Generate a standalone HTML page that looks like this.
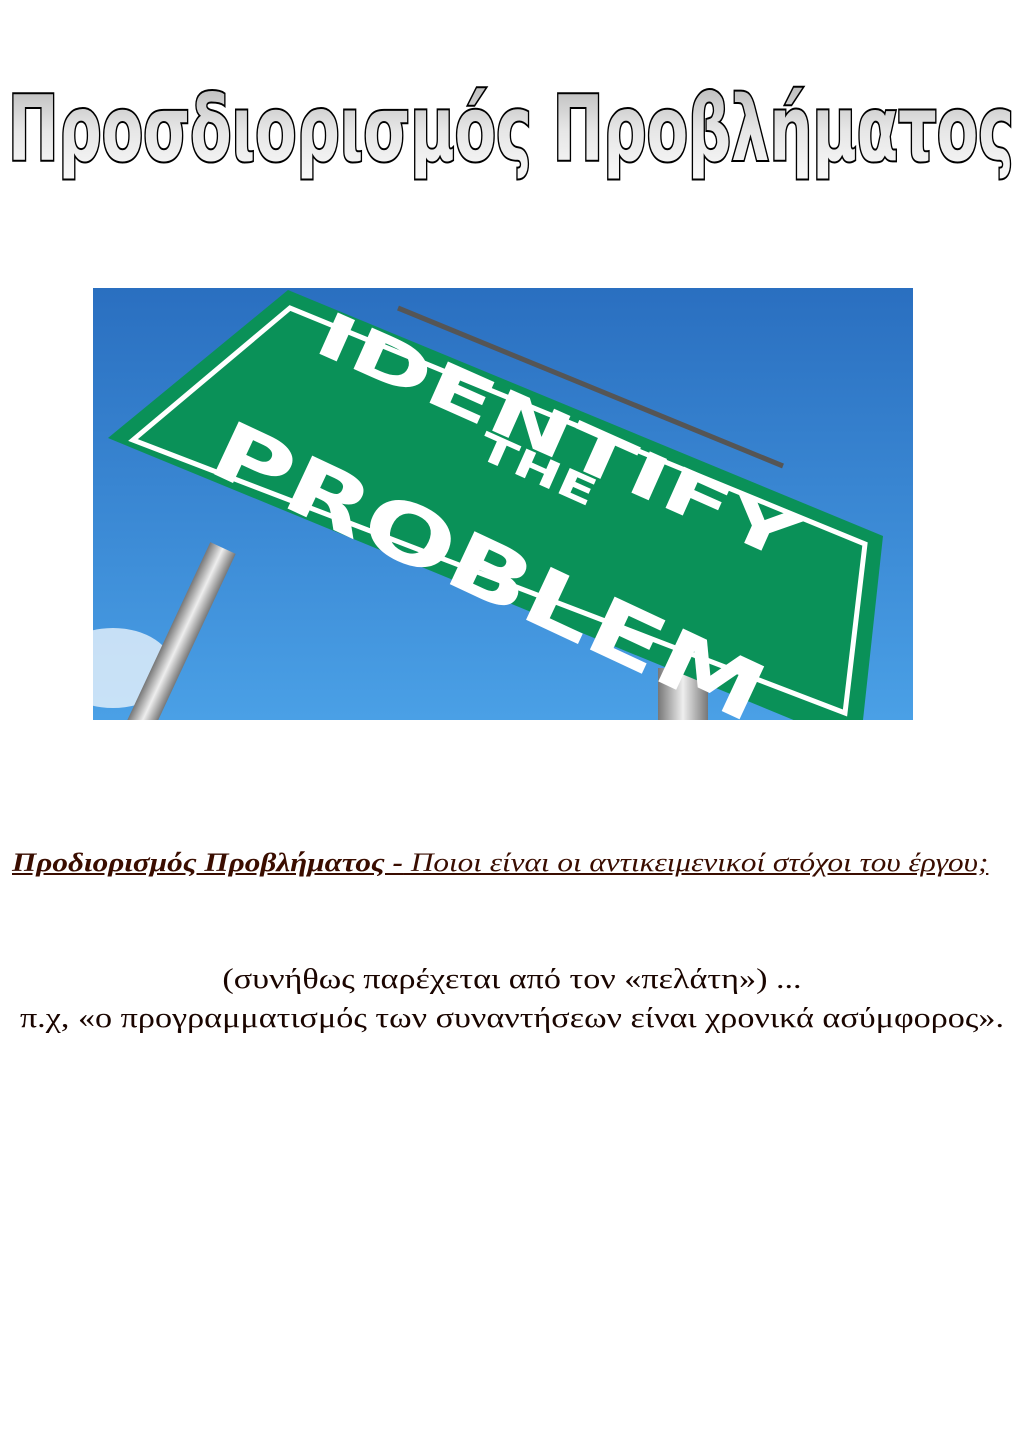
<!DOCTYPE html>
<html><head><meta charset="utf-8"><style>
body{margin:0;width:1024px;height:1448px;background:#fff;position:relative;overflow:hidden;font-family:"Liberation Serif","DejaVu Serif",serif;}
.abs{position:absolute;}
</style></head><body>
<svg class="abs" style="left:0;top:70px" width="1024" height="120">
<defs><linearGradient id="tg" x1="0" y1="0" x2="0" y2="1"><stop offset="0" stop-color="#b5b5b5"/><stop offset="0.5" stop-color="#e6e6e6"/><stop offset="1" stop-color="#fafafa"/></linearGradient></defs>
<text x="8" y="90" font-family="DejaVu Sans, sans-serif" font-weight="bold" font-size="90" textLength="1006" lengthAdjust="spacingAndGlyphs" fill="url(#tg)" stroke="#000" stroke-width="4" paint-order="stroke">Προσδιορισμός Προβλήματος</text>
</svg>
<svg class="abs" style="left:93px;top:288px" width="820" height="432">
<defs>
<linearGradient id="sky" x1="0" y1="0" x2="0" y2="1"><stop offset="0" stop-color="#2a6fc0"/><stop offset="1" stop-color="#4aa0e6"/></linearGradient>
<linearGradient id="pole" x1="0" y1="0" x2="1" y2="0"><stop offset="0" stop-color="#777"/><stop offset="0.5" stop-color="#eee"/><stop offset="1" stop-color="#777"/></linearGradient>
</defs>
<rect width="820" height="432" fill="url(#sky)"/>
<ellipse cx="20" cy="380" rx="60" ry="40" fill="#e8f2fb" opacity="0.8"/>
<g transform="translate(130,260) rotate(25)"><rect x="-14" y="0" width="28" height="250" fill="url(#pole)"/></g>
<rect x="565" y="380" width="50" height="60" fill="url(#pole)"/>
<line x1="305" y1="20" x2="690" y2="178" stroke="#555" stroke-width="5"/>
<polygon points="15,150 195,2 790,248 770,432 720,440" fill="#0a9158"/>
<polygon points="40,152 197,20 772,256 752,425" fill="none" stroke="#fff" stroke-width="5"/>
<g font-family="DejaVu Sans, sans-serif" font-weight="bold" fill="#fff">
<text transform="translate(218,62) rotate(24)" font-size="62" textLength="520" lengthAdjust="spacingAndGlyphs">IDENTIFY</text>
<text transform="translate(382,168) rotate(24)" font-size="38" textLength="125" lengthAdjust="spacingAndGlyphs">THE</text>
<text transform="translate(112,182) rotate(25)" font-size="80" textLength="600" lengthAdjust="spacingAndGlyphs">PROBLEM</text>
</g>
</svg>
<div class="abs" style="left:12px;top:848px;font-size:26px;font-style:italic;color:#3a0d00;text-decoration:underline;white-space:nowrap;transform:scaleX(1.2);transform-origin:0 0"><b>Προδιορισμός Προβλήματος -</b> Ποιοι είναι οι αντικειμενικοί στόχοι του έργου; </div>
<div class="abs" style="left:0;width:1024px;top:960px;text-align:center;font-size:28px;line-height:39px;color:#1a0500;white-space:nowrap;transform:scaleX(1.22);transform-origin:512px 0">(συνήθως παρέχεται από τον «πελάτη») ...<br>π.χ, «ο προγραμματισμός των συναντήσεων είναι χρονικά ασύμφορος».</div>
</body></html>
